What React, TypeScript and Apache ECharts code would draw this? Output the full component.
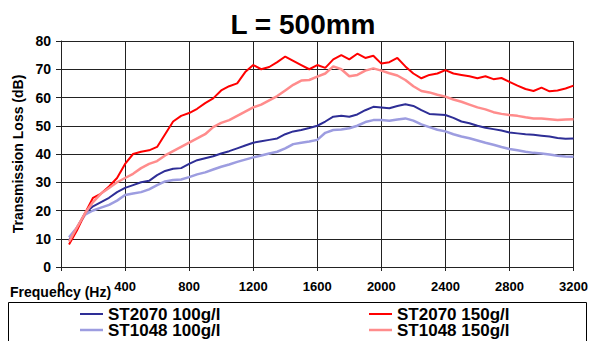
import React, { useEffect, useRef } from "react";
import * as echarts from "echarts";

const freqs = [
  50, 100, 150, 200, 250, 300, 350, 400, 450, 500, 550, 600, 650, 700, 750, 800,
  850, 900, 950, 1000, 1050, 1100, 1150, 1200, 1250, 1300, 1350, 1400, 1450, 1500, 1550, 1600,
  1650, 1700, 1750, 1800, 1850, 1900, 1950, 2000, 2050, 2100, 2150, 2200, 2250, 2300, 2350, 2400,
  2450, 2500, 2550, 2600, 2650, 2700, 2750, 2800, 2850, 2900, 2950, 3000, 3050, 3100, 3150, 3200,
];

const st2070_100 = [
  9.5, 14, 19, 21.5, 23, 24.5, 26.5, 28, 29, 30, 30.5, 32.5, 34, 34.8, 35, 36.5,
  37.8, 38.5, 39.2, 40.2, 41, 42, 43, 44, 44.5, 45, 45.5, 47, 48, 48.5, 49.2, 50,
  51.5, 53.2, 53.5, 53.2, 54, 55.5, 56.7, 56.5, 56.2, 57, 57.6, 57, 55.5, 54.2, 54, 53.8,
  52.8, 51.5, 50.9, 50, 49.3, 48.8, 48.3, 47.6, 47.3, 47, 46.8, 46.5, 46.2, 45.7, 45.4, 45.5,
];

const st1048_100 = [
  10.5, 14, 18.5, 20, 21, 22, 23.5, 25.5, 26, 26.5, 27.5, 29, 30.3, 30.8, 31, 31.8,
  32.8, 33.5, 34.5, 35.5, 36.3, 37.2, 38, 38.8, 39.5, 40.2, 40.8, 42, 43.5, 44, 44.4, 45,
  47.5, 48.5, 48.7, 49.1, 50, 51.3, 52, 52, 51.8, 52.2, 52.6, 51.8, 50.5, 49.5, 48.6, 48,
  47, 46.2, 45.6, 44.8, 44, 43.3, 42.5, 41.8, 41.3, 40.8, 40.4, 40.2, 39.8, 39.4, 39.1, 39,
];

const st2070_150 = [
  8, 13, 19, 24.5, 26, 28.5, 31.5, 36.5, 40, 40.8, 41.3, 42.5, 47, 51.5, 53.5, 54.5,
  56, 58, 59.7, 62.5, 64, 65, 69, 71.5, 70, 70.8, 72.5, 74.5, 73, 71.5, 70, 71.5,
  70.5, 73.5, 75, 73.5, 75.5, 74, 74.8, 72, 72.5, 74, 71, 68.5, 66.8, 68, 68.5, 69.7,
  68.5, 68, 67.5, 66.8, 67.5, 66.5, 66.9, 65.5, 64.2, 63, 62.3, 63.5, 62.2, 62.5, 63.2, 64.2,
];

const st1048_150 = [
  9, 14, 19, 23, 26, 28, 30, 31.5, 33, 35, 36.5, 37.5, 39.5, 41, 42.5, 44,
  45.5, 47, 49.5, 51, 52, 53.5, 55, 56.5, 57.5, 59, 60.5, 62.5, 64.5, 66, 66.2, 67.4,
  68.5, 71, 70, 67.5, 68, 69.5, 70.3, 69.5, 68.6, 67.8, 66.2, 64, 62.3, 61.8, 61, 60.3,
  59.3, 58.5, 57.5, 56.5, 55.8, 54.8, 54.2, 53.8, 53.5, 53, 52.6, 52.6, 52.3, 52, 52.2, 52.3,
];

const seriesNames = ["ST2070 100g/l", "ST1048 100g/l", "ST2070 150g/l", "ST1048 150g/l"];
const seriesColors = ["#2e2e96", "#9d9de0", "#ff0000", "#ff8c8c"];
const seriesWidths = [2, 2.5, 2, 2.5];
const seriesValues = [st2070_100, st1048_100, st2070_150, st1048_150];

const FONT = "'Liberation Sans', Arial, sans-serif";

export default function App() {
  const ref = useRef<HTMLDivElement>(null);
  useEffect(() => {
    if (!ref.current) return;
    const chart = echarts.init(ref.current, undefined, { renderer: "svg" });
    const legendPos = [
      [80, 314],
      [80, 330],
      [369, 314],
      [369, 330],
    ];
    const legendGraphics: any[] = [];
    seriesNames.forEach((name, i) => {
      const [lx, ly] = legendPos[i];
      legendGraphics.push({
        type: "line",
        shape: { x1: lx, y1: ly, x2: lx + 23, y2: ly },
        style: { stroke: seriesColors[i], lineWidth: seriesWidths[i] },
        z: 10,
      });
      legendGraphics.push({
        type: "text",
        x: lx + 28,
        y: ly,
        style: {
          text: name,
          font: `bold 17px ${FONT}`,
          fill: "#000",
          textVerticalAlign: "middle",
          verticalAlign: "middle",
        },
        z: 10,
      });
    });
    chart.setOption({
      animation: false,
      backgroundColor: "#fff",
      title: {
        text: "L = 500mm",
        left: 298,
        top: 5,
        textAlign: "center",
        textStyle: { fontFamily: FONT, fontSize: 28, fontWeight: "bold", color: "#000" },
      },
      grid: { left: 61, right: 16, top: 41, bottom: 74 },
      xAxis: {
        type: "value",
        min: 0,
        max: 3200,
        interval: 400,
        axisLine: { lineStyle: { color: "#222", width: 1 } },
        axisTick: { show: true, length: 4, lineStyle: { color: "#222" } },
        splitLine: { show: true, lineStyle: { color: "#222", width: 1 } },
        axisLabel: {
          margin: 13,
          fontFamily: FONT,
          fontSize: 13,
          fontWeight: "bold",
          color: "#000",
          formatter: (v: number) => String(v),
        },
      },
      yAxis: {
        type: "value",
        min: 0,
        max: 80,
        interval: 10,
        name: "Transmission Loss (dB)",
        nameLocation: "middle",
        nameGap: 36,
        nameTextStyle: { fontFamily: FONT, fontSize: 14, fontWeight: "bold", color: "#000" },
        axisLine: { show: true, lineStyle: { color: "#222", width: 1 } },
        axisTick: { show: true, length: 5, lineStyle: { color: "#222" } },
        splitLine: { show: true, lineStyle: { color: "#222", width: 1 } },
        axisLabel: {
          margin: 10,
          fontFamily: FONT,
          fontSize: 14,
          fontWeight: "bold",
          color: "#000",
          formatter: (v: number) => String(v),
        },
      },
      graphic: [
        {
          type: "rect",
          shape: { x: 8.5, y: 302.5, width: 578, height: 50 },
          style: { fill: "none", stroke: "#000", lineWidth: 1 },
          z: 0,
        },
        {
          type: "text",
          left: 10,
          top: 285,
          style: { text: "Frequency (Hz)", font: `bold 14px ${FONT}`, fill: "#000" },
          z: 10,
        },
        ...legendGraphics,
      ],
      series: seriesNames.map((name, i) => ({
        name,
        type: "line",
        symbol: "none",
        showSymbol: false,
        data: freqs.map((f, j) => [f, seriesValues[i][j]]),
        lineStyle: { color: seriesColors[i], width: seriesWidths[i] },
        itemStyle: { color: seriesColors[i] },
        z: i >= 2 ? 3 : 2,
      })),
    });
    return () => chart.dispose();
  }, []);
  return <div ref={ref} style={{ position: "fixed", left: 0, top: 0, width: 591, height: 341 }} />;
}
